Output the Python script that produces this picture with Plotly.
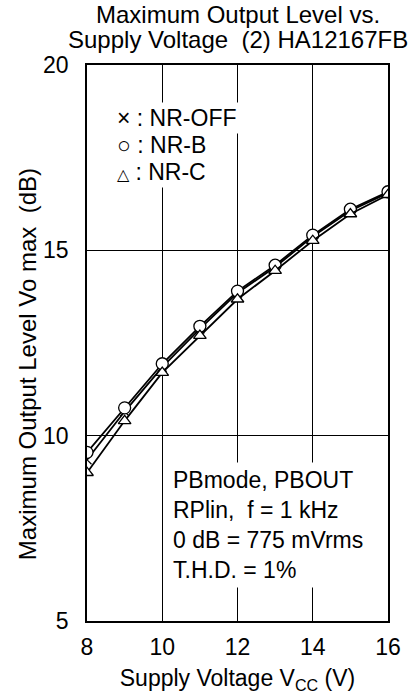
import plotly.graph_objects as go

vcc = [8, 9, 10, 11, 12, 13, 14, 15, 16]
nr_off = [9.35, 10.65, 11.85, 12.88, 13.85, 14.55, 15.37, 16.07, 16.55]
nr_b = [9.55, 10.75, 11.94, 12.95, 13.9, 14.6, 15.41, 16.11, 16.58]
nr_c = [9.0, 10.4, 11.7, 12.7, 13.68, 14.45, 15.26, 15.98, 16.5]

x_ticks = [8, 10, 12, 14, 16]
y_ticks = [5, 10, 15, 20]

title_lines = ["Maximum Output Level vs.", "Supply Voltage  (2) HA12167FB"]
legend_marks = ["×", "○", "△"]
legend_names = ["NR-OFF", "NR-B", "NR-C"]
legend_y = [18.57, 17.84, 17.11]
notes = ["PBmode, PBOUT", "RPlin,  f = 1 kHz", "0 dB = 775 mVrms", "T.H.D. = 1%"]

FONT = "Liberation Sans, Arial, sans-serif"
mark_size = {"×": 23, "○": 23, "△": 16}  # glyphs come from different fonts

fig = go.Figure()

fig.add_trace(go.Scatter(x=vcc, y=nr_off, mode="lines+markers", name="NR-OFF",
                         line=dict(color="black", width=1.8),
                         marker=dict(symbol="x-thin-open", size=9,
                                     line=dict(color="black", width=1.2))))
fig.add_trace(go.Scatter(x=vcc, y=nr_b, mode="lines+markers", name="NR-B",
                         line=dict(color="black", width=1.8),
                         marker=dict(symbol="circle", size=12, color="white",
                                     line=dict(color="black", width=1.3))))
fig.add_trace(go.Scatter(x=vcc, y=nr_c, mode="lines+markers", name="NR-C",
                         line=dict(color="black", width=1.8),
                         marker=dict(symbol="triangle-up", size=11, color="white",
                                     line=dict(color="black", width=1.3))))

# title, one annotation per line (tighter spacing than <br>)
for txt, shift in zip(title_lines, [51, 26]):
    fig.add_annotation(x=0.5, y=1, xref="paper", yref="paper", xanchor="center",
                       yanchor="middle", yshift=shift, showarrow=False, borderpad=0,
                       text=txt, font=dict(family=FONT, size=24, color="black"))

# y axis title (sits a bit below the plot centre in the original)
fig.add_annotation(x=0, y=0.462, xref="paper", yref="paper", xanchor="center", yanchor="middle",
                   xshift=-60, textangle=-90, showarrow=False,
                   text="Maximum Output Level Vo max  (dB)",
                   font=dict(family=FONT, size=24, color="black"))

# legend written inside the plot
for mark, name, yy in zip(legend_marks, legend_names, legend_y):
    fig.add_annotation(x=8.72, y=yy, xref="x", yref="y", xanchor="left", yanchor="middle",
                       align="left", showarrow=False, bgcolor="white", borderpad=2,
                       text=f"<span style='font-size:{mark_size[mark]}px'>{mark}</span> : {name}",
                       font=dict(family=FONT, size=23, color="black"))

# conditions
fig.add_annotation(x=10.15, y=9.3, xref="x", yref="y", xanchor="left", yanchor="top",
                   align="left", showarrow=False, bgcolor="white", borderpad=4,
                   text="<br>".join(notes),
                   font=dict(family=FONT, size=23, color="black"))

fig.update_layout(
    width=413, height=700,
    margin=dict(l=87, r=25, t=65, b=79),
    paper_bgcolor="white", plot_bgcolor="white",
    showlegend=False,
    font=dict(family=FONT, size=23, color="black"),
)
fig.update_xaxes(range=[8, 16], tickvals=x_ticks, showgrid=True, gridcolor="black",
                 gridwidth=1, showline=True, linecolor="black", linewidth=1.5,
                 mirror=True, ticks="", zeroline=False, ticklabelstandoff=5,
                 title=dict(text="Supply Voltage V<sub>CC</sub> (V)", standoff=11,
                            font=dict(family=FONT, size=23)))
fig.update_yaxes(range=[5, 20], tickvals=y_ticks, showgrid=True, gridcolor="black",
                 gridwidth=1, showline=True, linecolor="black", linewidth=1.5,
                 mirror=True, ticks="", zeroline=False, ticklabelstandoff=12)

fig.write_html("out.html", config={"displayModeBar": False},
               post_script="document.body.style.margin='0';")
